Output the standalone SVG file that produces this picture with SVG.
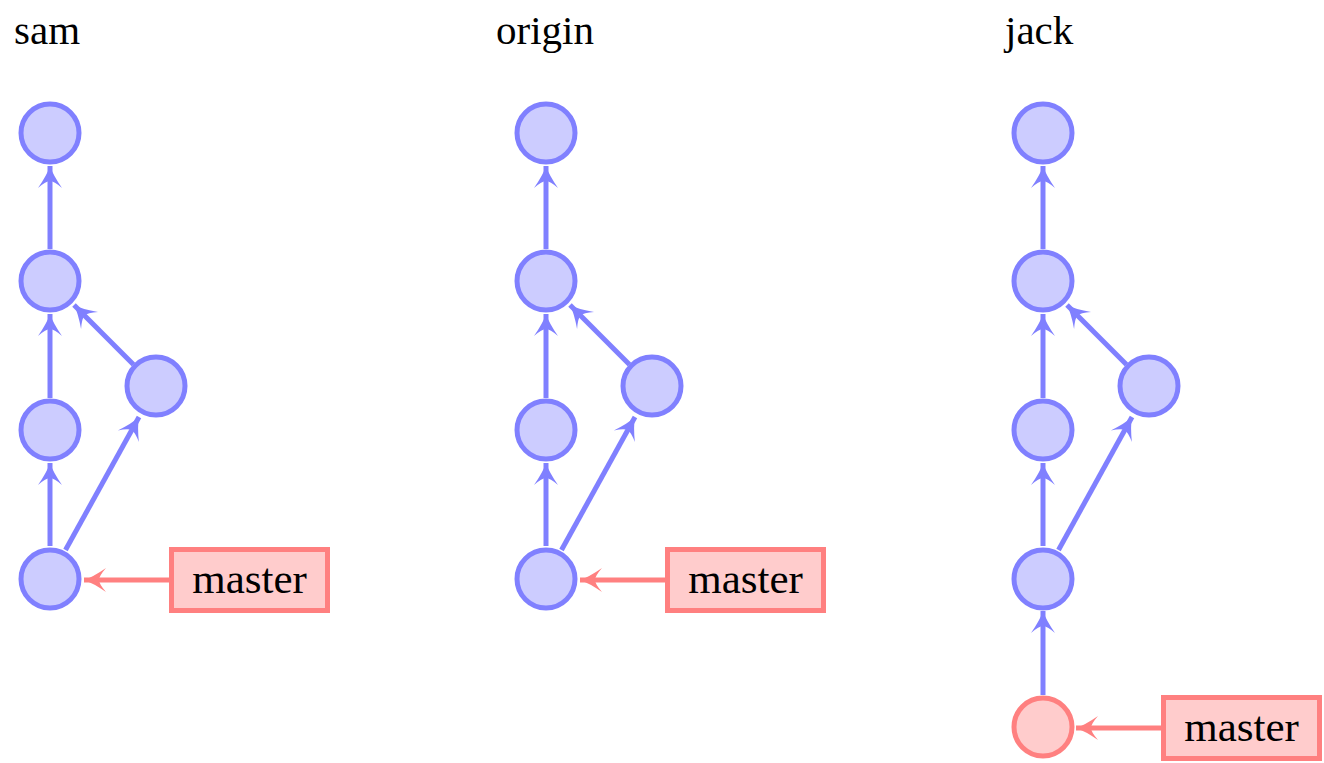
<svg xmlns="http://www.w3.org/2000/svg" width="1324" height="763" viewBox="0 0 1324 763">
  <style>
    .title { font-family: "Liberation Serif", "DejaVu Serif", serif; font-size: 41px; fill: #000; }
    .commit { fill: #ccccff; stroke: #8080ff; stroke-width: 5; }
    .head { fill: #ffcccc; stroke: #ff8080; stroke-width: 5; }
    .branch rect { fill: #ffcccc; stroke: #ff8080; stroke-width: 5; }
    .branch text { font-family: "Liberation Serif", "DejaVu Serif", serif; font-size: 43px; fill: #000; text-anchor: middle; }
    .edge { fill: none; stroke: #8080ff; stroke-width: 5; marker-end: url(#tipBlue); }
    .ref { fill: none; stroke: #ff8080; stroke-width: 5; marker-end: url(#tipRed); }
  </style>
  <defs>
    <marker id="tipBlue" markerUnits="userSpaceOnUse" viewBox="-24 -13 26 26" refX="0" refY="0" markerWidth="26" markerHeight="26" orient="auto">
      <path d="M0,0 Q-9,-3 -22,-12 Q-15,-4 -15,0 Q-15,4 -22,12 Q-9,3 0,0 Z" fill="#8080ff"/>
    </marker>
    <marker id="tipRed" markerUnits="userSpaceOnUse" viewBox="-24 -13 26 26" refX="0" refY="0" markerWidth="26" markerHeight="26" orient="auto">
      <path d="M0,0 Q-9,-3 -22,-12 Q-15,-4 -15,0 Q-15,4 -22,12 Q-9,3 0,0 Z" fill="#ff8080"/>
    </marker>
  </defs>

  <!-- repository titles -->
  <g id="titles">
    <text class="title" x="14" y="44">sam</text>
    <text class="title" x="496" y="44">origin</text>
    <text class="title" x="1005" y="44">jack</text>
  </g>

  <!-- history edges (child points to parent) -->
  <g id="connectors">
    <!-- sam -->
    <path class="edge" d="M50,249 L50,166"/>
    <path class="edge" d="M50,398 L50,314"/>
    <path class="edge" d="M50,546 L50,463"/>
    <path class="edge" d="M65.5,550 L139,417"/>
    <path class="edge" d="M133.4,364.4 L74,305"/>
    <path class="ref" d="M169,580 L84,580"/>
    <!-- origin -->
    <path class="edge" d="M546,249 L546,166"/>
    <path class="edge" d="M546,398 L546,314"/>
    <path class="edge" d="M546,546 L546,463"/>
    <path class="edge" d="M561.5,550 L635,417"/>
    <path class="edge" d="M629.4,364.4 L570,305"/>
    <path class="ref" d="M665,580 L580,580"/>
    <!-- jack -->
    <path class="edge" d="M1043,249 L1043,166"/>
    <path class="edge" d="M1043,398 L1043,314"/>
    <path class="edge" d="M1043,546 L1043,463"/>
    <path class="edge" d="M1058.5,550 L1132,417"/>
    <path class="edge" d="M1126.4,364.4 L1067,305"/>
    <path class="edge" d="M1043,695 L1043,611"/>
    <path class="ref" d="M1161,728 L1076,728"/>
  </g>

  <!-- sam -->
  <g id="sam-c1"><circle class="commit" cx="50" cy="133" r="29"/></g>
  <g id="sam-c2"><circle class="commit" cx="50" cy="281" r="29"/></g>
  <g id="sam-c3"><circle class="commit" cx="50" cy="430" r="29"/></g>
  <g id="sam-c4"><circle class="commit" cx="156" cy="386" r="29"/></g>
  <g id="sam-c5"><circle class="commit" cx="50" cy="579" r="29"/></g>
  <g id="sam-master" class="branch">
    <rect x="171.5" y="549.5" width="156" height="61"/>
    <text x="249.5" y="593">master</text>
  </g>

  <!-- origin -->
  <g id="origin-c1"><circle class="commit" cx="546" cy="133" r="29"/></g>
  <g id="origin-c2"><circle class="commit" cx="546" cy="281" r="29"/></g>
  <g id="origin-c3"><circle class="commit" cx="546" cy="430" r="29"/></g>
  <g id="origin-c4"><circle class="commit" cx="652" cy="386" r="29"/></g>
  <g id="origin-c5"><circle class="commit" cx="546" cy="579" r="29"/></g>
  <g id="origin-master" class="branch">
    <rect x="667.5" y="549.5" width="156" height="61"/>
    <text x="745.5" y="593">master</text>
  </g>

  <!-- jack -->
  <g id="jack-c1"><circle class="commit" cx="1043" cy="133" r="29"/></g>
  <g id="jack-c2"><circle class="commit" cx="1043" cy="281" r="29"/></g>
  <g id="jack-c3"><circle class="commit" cx="1043" cy="430" r="29"/></g>
  <g id="jack-c4"><circle class="commit" cx="1149" cy="386" r="29"/></g>
  <g id="jack-c5"><circle class="commit" cx="1043" cy="579" r="29"/></g>
  <g id="jack-c6"><circle class="head" cx="1043" cy="727" r="29"/></g>
  <g id="jack-master" class="branch">
    <rect x="1163.5" y="697.5" width="156" height="61"/>
    <text x="1241.5" y="741">master</text>
  </g>
</svg>
